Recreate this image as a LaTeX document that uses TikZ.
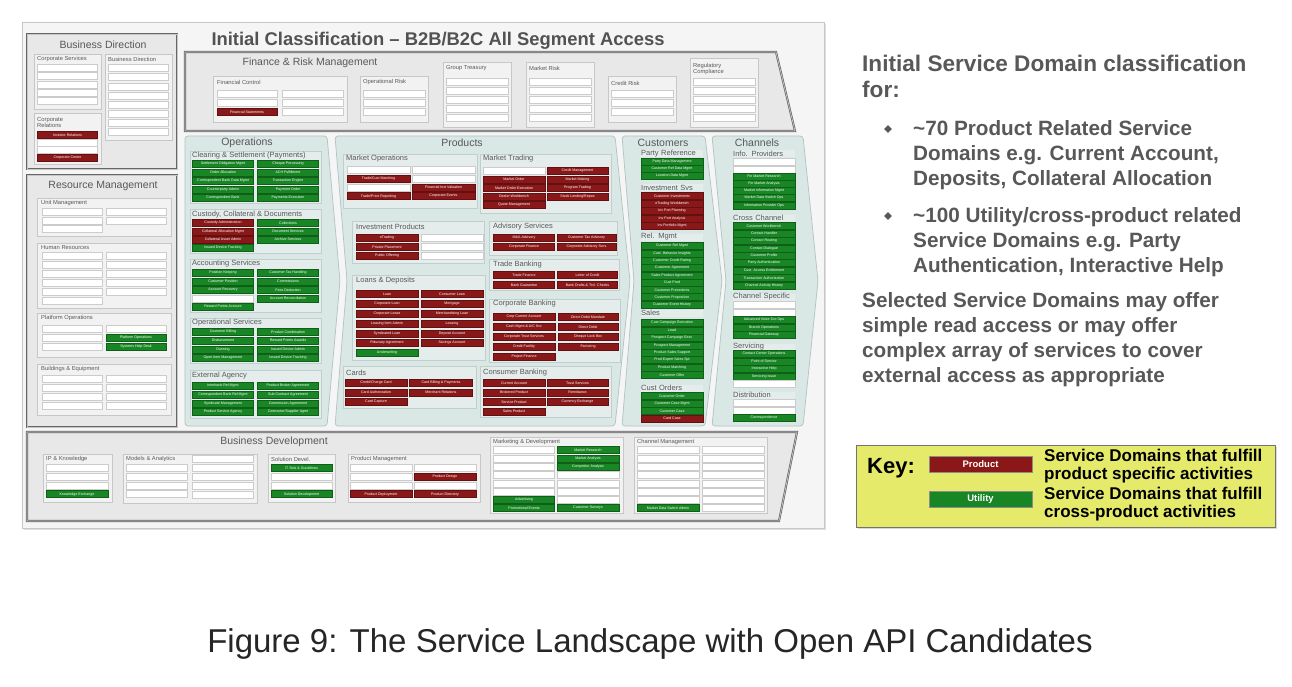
\documentclass[tikz,border=0pt]{standalone}
\usepackage{fontspec}
\setmainfont{Liberation Sans}
\usetikzlibrary{positioning,shadows}
\definecolor{sdred}{RGB}{139,24,24}
\definecolor{sdgreen}{RGB}{24,134,36}
\definecolor{colfill}{RGB}{217,231,229}
\definecolor{coldraw}{RGB}{176,195,193}
\definecolor{subfill}{RGB}{228,237,236}
\definecolor{textgrey}{RGB}{88,88,88}
\definecolor{keyyellow}{RGB}{229,234,106}

\newcommand{\sdcol}[6]{% name, x centre, first y, width, pitch, kind/label list
  \foreach \k/\t [count=\i] in {#6}
    \node[sd\k,minimum width=#4] (#1-\i) at (#2,{#3+(\i-1)*#5}) {\t};}

\begin{document}
\begin{tikzpicture}[x=1pt,y=-1pt,
  sd/.style={inner sep=0pt,minimum height=7pt,line width=.3pt,text=white,
  font=\fontsize{3.6}{4}\selectfont},
  sdr/.style={sd,fill=sdred,draw=sdred!70!black},
  sdg/.style={sd,fill=sdgreen,draw=sdgreen!70!black},
  sdw/.style={sd,fill=white,draw=black!20},
  col/.style={fill=colfill,draw=coldraw,line width=.7pt,rounded corners=3pt},
  grp/.style={fill=subfill,draw=coldraw!80,line width=.4pt},
  area/.style={fill=black!9,draw=black!60,double=black!22,double distance=.7pt,line width=.7pt},
  ggrp/.style={fill=black!5,draw=black!22,line width=.4pt},
  ptitle/.style={inner sep=0pt,text=textgrey,font=\fontsize{10.5}{12}\selectfont},
  gtitle/.style={anchor=west,inner sep=0pt,text=textgrey,font=\fontsize{7.5}{8}\selectfont},
  stitle/.style={gtitle,font=\fontsize{5.8}{6.5}\selectfont},
  ctitle/.style={gtitle,fill=subfill,text width=62pt,minimum height=7pt,align=left},
  rtext/.style={anchor=north west,inner sep=0pt,align=left,text=textgrey},
  bullet/.style={fill=textgrey,rotate=45,minimum size=5.5pt,inner sep=0pt},
  keyitem/.style={minimum width=103pt,minimum height=16pt,inner sep=0pt,draw=black!45,
  text=white,font=\fontsize{9.5}{10}\bfseries\selectfont},
  keytext/.style={anchor=north west,inner sep=0pt,align=left,
  font=\fontsize{17}{18}\bfseries\selectfont}]
  \useasboundingbox (0,0) rectangle (1292,687);
  \fill[white] (0,0) rectangle (1292,687);

  \draw[fill=black!4,draw=black!22,line width=.8pt,
    drop shadow={opacity=.25,shadow xshift=2pt,shadow yshift=-2pt}] (22,22) rectangle (824,528);
  \node[anchor=base,inner sep=0pt,text=black!68,font=\fontsize{18.4}{20}\bfseries\selectfont]
    (title) at (438,46) {Initial Classification -- B2B/B2C All Segment Access};

  % business direction
  \draw[area] (27,34) rectangle (177,169);
  \node[ptitle] (bdir) at (103,45) {Business Direction};
  \draw[ggrp] (34,54) rectangle (101,109);
  \node[stitle] (corpsvc) at (37,59) {Corporate Services};
  \sdcol{cs}{67.5}{67.5}{60}{8.4}{w/{},w/{},w/{},w/{},w/{}}
  \draw[ggrp] (105,54) rectangle (172,140);
  \node[stitle] (bdsub) at (108,59) {Business Direction};
  \sdcol{bd}{138.5}{68}{60}{9.1}{w/{},w/{},w/{},w/{},w/{},w/{},w/{},w/{}}
  \draw[ggrp] (34,113) rectangle (101,164);
  \node[stitle,align=left] (corprel) at (37,122.5) {Corporate\\Relations};
  \sdcol{cr}{67.5}{135}{60}{7.5}{r/Investor Relations,w/{},w/{},r/Corporate Centre}

  % resource management
  \draw[area] (27,175) rectangle (177,427);
  \node[ptitle] (resm) at (103,186) {Resource Management};
  \draw[ggrp] (37,198) rectangle (171,236);
  \node[stitle] (unitm) at (41,203) {Unit Management};
  \sdcol{um1}{72}{212}{60}{8.2}{w/{},w/{},w/{}}
  \sdcol{um2}{136}{212}{60}{8.2}{w/{},w/{}}
  \draw[ggrp] (37,243) rectangle (171,308);
  \node[stitle] (hres) at (41,248) {Human Resources};
  \sdcol{hr1}{72}{256}{60}{9}{w/{},w/{},w/{},w/{},w/{},w/{}}
  \sdcol{hr2}{136}{256}{60}{9}{w/{},w/{},w/{},w/{},w/{}}
  \draw[ggrp] (37,313) rectangle (171,357);
  \node[stitle] (platop) at (41,318) {Platform Operations};
  \sdcol{po1}{72}{329}{60}{9}{w/{},w/{},w/{}}
  \sdcol{po2}{136}{329}{60}{9}{w/{},g/Platform Operations,g/Systems Help Desk}
  \draw[ggrp] (37,364) rectangle (171,415);
  \node[stitle] (bldg) at (41,369) {Buildings \& Equipment};
  \sdcol{be1}{72}{379}{60}{8.8}{w/{},w/{},w/{},w/{}}
  \sdcol{be2}{136}{379}{60}{8.8}{w/{},w/{},w/{},w/{}}

  % finance and risk
  \draw[area] (185,52) -- (776,52) -- (795,131) -- (185,131) -- cycle;
  \node[ptitle] (frm) at (310,63) {Finance \& Risk Management};
  \draw[ggrp] (213,76) rectangle (347,122);
  \node[stitle] (finctl) at (217,82) {Financial Control};
  \sdcol{fc1}{247}{94}{60}{9}{w/{},w/{},r/Financial Statements}
  \sdcol{fc2}{312.5}{94}{61}{9}{w/{},w/{},w/{}}
  \draw[ggrp] (360,76) rectangle (428,122);
  \node[stitle] (oprisk) at (363,82) {Operational Risk};
  \sdcol{opr}{394}{94}{62}{9}{w/{},w/{},w/{}}
  \draw[ggrp] (443,62) rectangle (511,127);
  \node[stitle] (gtreas) at (446,68) {Group Treasury};
  \sdcol{gt}{477}{82}{62}{9}{w/{},w/{},w/{},w/{},w/{}}
  \draw[ggrp] (526,62) rectangle (594,127);
  \node[stitle] (mrisk) at (529,68) {Market Risk};
  \sdcol{mr}{560}{82}{62}{9}{w/{},w/{},w/{},w/{},w/{}}
  \draw[ggrp] (608,76) rectangle (676,122);
  \node[stitle] (crisk) at (611,83) {Credit Risk};
  \sdcol{crk}{642}{94}{62}{9}{w/{},w/{},w/{}}
  \draw[ggrp] (690,58) rectangle (758,127);
  \node[stitle,align=left] (regc) at (693,69) {Regulatory\\Compliance};
  \sdcol{rc}{724}{82}{62}{9}{w/{},w/{},w/{},w/{},w/{}}

  % operations
  \draw[col] (185,136) -- (327,136) -- (340,281) -- (327,426) -- (185,426) -- cycle;
  \node[ptitle] (ops) at (247,143) {Operations};
  \draw[grp] (190,151) rectangle (321,203);
  \node[gtitle] (clear) at (192,156) {Clearing \& Settlement (Payments)};
  \sdcol{cls1}{223}{164}{61}{8.4}{g/Settlement Obligation Mgmt,g/Order Allocation,
    g/Correspondent Bank Data Mgmt,g/Counterparty Admin,g/Correspondent Bank}
  \sdcol{cls2}{288}{164}{61}{8.4}{g/Cheque Processing,g/ACH Fulfillment,
    g/Transaction Engine,g/Payment Order,g/Payments Execution}
  \draw[grp] (190,209) rectangle (321,253);
  \node[gtitle] (custody) at (192,215) {Custody, Collateral \& Documents};
  \sdcol{cc1}{223}{223}{61}{8.3}{r/Custody Administration,r/Collateral Allocation Mgmt,
    r/Collateral Asset Admin,g/Issued Device Tracking}
  \sdcol{cc2}{288}{223}{61}{8.3}{g/Collections,g/Document Services,g/Archive Services}
  \draw[grp] (190,259) rectangle (321,312);
  \node[gtitle] (acct) at (192,264) {Accounting Services};
  \sdcol{as1}{223}{273}{61}{8.4}{g/Position Keeping,g/Customer Position,
    g/Account Recovery,w/{},g/Reward Points Account}
  \sdcol{as2}{288}{273}{61}{8.4}{g/Customer Tax Handling,g/Commissions,
    g/Fees Deduction,g/Account Reconciliation}
  \draw[grp] (190,318) rectangle (321,363);
  \node[gtitle] (opsvc) at (192,323) {Operational Services};
  \sdcol{os1}{223}{332}{61}{8.6}{g/Customer Billing,g/Disbursement,g/Dunning,
    g/Open Item Management}
  \sdcol{os2}{288}{332}{61}{8.6}{g/Product Combination,g/Reward Points Awards,
    g/Issued Device Admin,g/Issued Device Tracking}
  \draw[grp] (190,370) rectangle (321,418);
  \node[gtitle] (extag) at (192,376) {External Agency};
  \sdcol{ea1}{223}{386}{61}{8.6}{g/Interbank Rel Mgmt,g/Correspondent Bank Rel Mgmt,
    g/Syndicate Management,g/Product Service Agency}
  \sdcol{ea2}{288}{386}{61}{8.6}{g/Product Broker Agreement,g/Sub Contract Agreement,
    g/Commission Agreement,g/{Contractor/Supplier Agmt}}

  % products
  \draw[col] (335,136) -- (615,136) -- (630,281) -- (615,426) -- (335,426) -- (347,281) -- cycle;
  \node[ptitle] (prod) at (462,143) {Products};
  \draw[grp] (343,154) rectangle (477,208);
  \node[gtitle] (mktops) at (346,159) {Market Operations};
  \sdcol{mo1}{378.5}{170}{63}{8.7}{w/{},r/{Trade/Cust Matching},w/{},r/{Trade/Price Reporting}}
  \sdcol{mo2}{443.5}{170}{63}{8.7}{w/{},w/{},r/Financial Inst Valuation,r/Corporate Events}
  \draw[grp] (480,154) rectangle (611,213);
  \node[gtitle] (mkttrd) at (483,159) {Market Trading};
  \sdcol{mt1}{514}{171}{62}{8.5}{w/{},r/Market Order,r/Market Order Execution,
    r/Dealer Workbench,r/Quote Management}
  \sdcol{mt2}{577.5}{171}{61}{8.5}{r/Credit Management,r/Market Making,
    r/Program Trading,r/{Stock Lending/Repos}}
  \draw[grp] (352,221) rectangle (484,263);
  \node[gtitle] (invp) at (356,227) {Investment Products};
  \sdcol{ip1}{387}{238}{62}{9}{r/eTrading,r/Private Placement,r/Public Offering}
  \sdcol{ip2}{452}{238}{62}{9}{w/{},w/{},w/{}}
  \draw[grp] (489,221) rectangle (617,255);
  \node[gtitle] (advs) at (493,227) {Advisory Services};
  \sdcol{av1}{524}{238}{61}{9}{r/M\&A Advisory,r/Corporate Finance}
  \sdcol{av2}{586.5}{238}{59}{9}{r/Customer Tax Advisory,r/Corporate Advisory Svcs}
  \draw[grp] (489,259) rectangle (619,290);
  \node[gtitle] (trdb) at (493,265) {Trade Banking};
  \sdcol{tb1}{524}{275}{61}{10}{r/Trade Finance,r/Bank Guarantee}
  \sdcol{tb2}{587.5}{275}{60}{10}{r/Letter of Credit,r/Bank Drafts \& Trvl. Checks}
  \draw[grp] (352,275) rectangle (485,360);
  \node[gtitle] (loans) at (356,281) {Loans \& Deposits};
  \sdcol{ld1}{387}{294}{62}{9.8}{r/Loan,r/Corporate Loan,r/Corporate Lease,
    r/Leasing Item Admin,r/Syndicated Loan,r/Fiduciary Agreement,g/Underwriting}
  \sdcol{ld2}{452}{294}{62}{9.8}{r/Consumer Loan,r/Mortgage,r/Merchandising Loan,
    r/Leasing,r/Deposit Account,r/Savings Account}
  \draw[grp] (489,299) rectangle (620,362);
  \node[gtitle] (corpb) at (493,304) {Corporate Banking};
  \sdcol{cb1}{524}{317}{62}{9.8}{r/Corp Current Account,r/{Cash Mgmt \& A/C Svc},
    r/Corporate Trust Services,r/Credit Facility,r/Project Finance}
  \sdcol{cb2}{588}{317}{60}{9.8}{r/Direct Debit Mandate,r/Direct Debit,
    r/Cheque Lock Box,r/Factoring}
  \draw[grp] (343,366) rectangle (476,408);
  \node[gtitle] (cards) at (346,373) {Cards};
  \sdcol{cd1}{376}{383}{62}{9.5}{r/{Credit/Charge Card},r/Card Authorization,r/Card Capture}
  \sdcol{cd2}{441}{383}{63}{9.5}{r/Card Billing \& Payments,r/Merchant Relations}
  \draw[grp] (480,366) rectangle (611,417);
  \node[gtitle] (consb) at (483,373) {Consumer Banking};
  \sdcol{cnb1}{514}{383}{62}{9.4}{r/Current Account,r/Brokered Product,
    r/Service Product,r/Sales Product}
  \sdcol{cnb2}{577.5}{383}{61}{9.4}{r/Trust Services,r/Remittance,r/Currency Exchange}

  % customers
  \draw[col] (622,136) -- (705,136) -- (722,281) -- (705,426) -- (622,426) -- (634,281) -- cycle;
  \node[ptitle] (cust) at (663,143) {Customers};
  \node[ctitle] (partyref) at (641,154) {Party Reference};
  \sdcol{pr}{672}{162}{62}{7}{g/Party Data Management,g/Customer Ref Data Mgmt,
    g/Location Data Mgmt}
  \node[ctitle] (invsvs) at (641,188) {Investment Svs};
  \sdcol{is}{672}{196}{62}{7.4}{r/Customer Investments,r/eTrading Workbench,
    r/Inv Port Planning,r/Inv Port Analysis,r/Inv Portfolio Mgmt}
  \node[ctitle] (relm) at (641,237) {Rel. Mgmt};
  \sdcol{rm}{672}{246}{62}{7.3}{g/Customer Rel Mgmt,g/Cust. Behavior Insights,
    g/Customer Credit Rating,g/Customer Agreement,g/Sales Product Agreement,
    g/Cust Prod/Svc Eligibility,g/Customer Precedents,g/Customer Proposition,
    g/Customer Event History}
  \node[ctitle] (sales) at (641,313) {Sales};
  \sdcol{sl}{672}{323}{62}{7.4}{g/Cust Campaign Execution,g/Lead/Opportunity Mgmt,
    g/Prospect Campaign Exec,g/Prospect Management,g/Product Sales Support,
    g/Prod Expert Sales Spt,g/Product Matching,g/Customer Offer}
  \node[ctitle] (custord) at (641,388) {Cust Orders};
  \sdcol{co}{672}{396}{62}{7.4}{g/Customer Order,g/Customer Case Mgmt,
    g/Customer Case,r/Card Case}

  % channels
  \draw[col] (712,136) -- (803,136) -- (818,281) -- (803,426) -- (712,426) -- (726,281) -- cycle;
  \node[ptitle] (chan) at (757,143) {Channels};
  \node[ctitle] (infop) at (733,154) {Info. Providers};
  \sdcol{inf}{764}{162}{62}{7.2}{w/{},w/{},g/Fin Market Research,g/Fin Market Analysis,
    g/Market Information Mgmt,g/Market Data Switch Ops,g/Information Provider Ops}
  \node[ctitle] (xchan) at (733,218) {Cross Channel};
  \sdcol{xc}{764}{226}{62}{7.4}{g/Customer Workbench,g/Contact Handler,g/Contact Routing,
    g/Contact Dialogue,g/Customer Profile,g/Party Authentication,
    g/Cust. Access Entitlement,g/Transaction Authorization,g/Channel Activity History}
  \node[ctitle] (chspec) at (733,297) {Channel Specific};
  \sdcol{chs}{764}{305}{62}{7.5}{w/{},w/{},g/Advanced Voice Svc Ops,
    g/Branch Operations,g/Financial Gateway}
  \node[ctitle] (servc) at (733,347) {Servicing};
  \sdcol{svc}{764}{354}{62}{7.5}{g/Contact Center Operations,g/Point of Service,
    g/Interactive Help,g/Servicing Issue,w/{}}
  \node[ctitle] (distr) at (733,395) {Distribution};
  \sdcol{dst}{764}{403}{62}{7.2}{w/{},w/{},g/Correspondence}

  % business development
  \draw[area] (27,432) -- (797,432) -- (779,521) -- (27,521) -- cycle;
  \node[ptitle] (bdev) at (274,442) {Business Development};
  \draw[ggrp] (43,454) rectangle (112,502);
  \node[stitle] (ipk) at (46,459) {IP \& Knowledge};
  \sdcol{ipkn}{77}{468}{62}{8.7}{w/{},w/{},w/{},g/Knowledge Exchange}
  \draw[ggrp] (123,454) rectangle (257,503);
  \node[stitle] (models) at (126,459) {Models \& Analytics};
  \sdcol{ma1}{156.5}{468}{61}{8.7}{w/{},w/{},w/{},w/{}}
  \sdcol{ma2}{222.5}{459}{61}{8.8}{w/{},w/{},w/{},w/{},w/{}}
  \draw[ggrp] (268,454) rectangle (335,502);
  \node[stitle] (soldev) at (271,459) {Solution Devel.};
  \sdcol{sdev}{301.5}{468}{61}{8.7}{g/IT Stds \& Guidelines,w/{},w/{},g/Solution Development}
  \draw[ggrp] (348,454) rectangle (480,502);
  \node[stitle] (prodm) at (351,459) {Product Management};
  \sdcol{pm1}{381}{468}{62}{8.7}{w/{},w/{},w/{},r/Product Deployment}
  \sdcol{pm2}{445}{468}{62}{8.7}{w/{},r/Product Design,w/{},r/Product Directory}
  \draw[ggrp] (490,437) rectangle (623,513);
  \node[stitle] (mktdev) at (493,442) {Marketing \& Development};
  \sdcol{md1}{524}{450}{61}{8.3}{w/{},w/{},w/{},w/{},w/{},w/{},g/Advertising,
    g/Promotional Events}
  \sdcol{md2}{588}{450}{62}{8.3}{g/Market Research,g/Market Analysis,
    g/Competitor Analysis,w/{},w/{},w/{},w/{},g/Customer Surveys}
  \draw[ggrp] (634,437) rectangle (767,513);
  \node[stitle] (chmgmt) at (637,442) {Channel Management};
  \sdcol{cm1}{668}{450}{62}{8.3}{w/{},w/{},w/{},w/{},w/{},w/{},w/{},
    g/Market Data Switch Admin}
  \sdcol{cm2}{733}{450}{62}{8.3}{w/{},w/{},w/{},w/{},w/{},w/{},w/{},w/{}}

  % right hand text
  \node[rtext,font=\fontsize{22.6}{26}\bfseries\selectfont] (intro) at (862,55)
    {Initial Service Domain classification\\for:};
  \node[rtext,font=\fontsize{20.7}{25}\bfseries\selectfont] (item1) at (913,120)
    {\textasciitilde70 Product Related Service\\Domains e.g. Current Account,\\
    Deposits, Collateral Allocation};
  \node[rtext,font=\fontsize{20.7}{25}\bfseries\selectfont] (item2) at (913,207)
    {\textasciitilde100 Utility/cross-product related\\Service Domains e.g. Party\\
    Authentication, Interactive Help};
  \node[bullet] (dot1) at (888,129) {};
  \node[bullet] (dot2) at (888,216) {};
  \node[rtext,font=\fontsize{20.7}{25}\bfseries\selectfont] (selected) at (862,292)
    {Selected Service Domains may offer\\simple read access or may offer\\
    complex array of services to cover\\external access as appropriate};

  % key
  \draw[fill=keyyellow,draw=black!55,line width=.8pt,
    drop shadow={opacity=.3,shadow xshift=2pt,shadow yshift=-2pt}] (856,445) rectangle (1275,527);
  \node[anchor=base west,inner sep=0pt,font=\fontsize{22}{24}\bfseries\selectfont] (keylbl)
    at (867,473) {Key:};
  \node[keyitem,fill=sdred] (keyprod) at (980.5,464) {Product};
  \node[keyitem,fill=sdgreen,below=19pt of keyprod] (keyutil) {Utility};
  \node[keytext] (prodtxt) at (1044,449) {Service Domains that fulfill\\product specific activities};
  \node[keytext] (utiltxt) at (1044,487) {Service Domains that fulfill\\cross-product activities};

  \node[anchor=base,inner sep=0pt,text=black!85,font=\fontsize{33}{36}\selectfont] (caption)
    at (650,652) {Figure 9: The Service Landscape with Open API Candidates};
\end{tikzpicture}
\end{document}
